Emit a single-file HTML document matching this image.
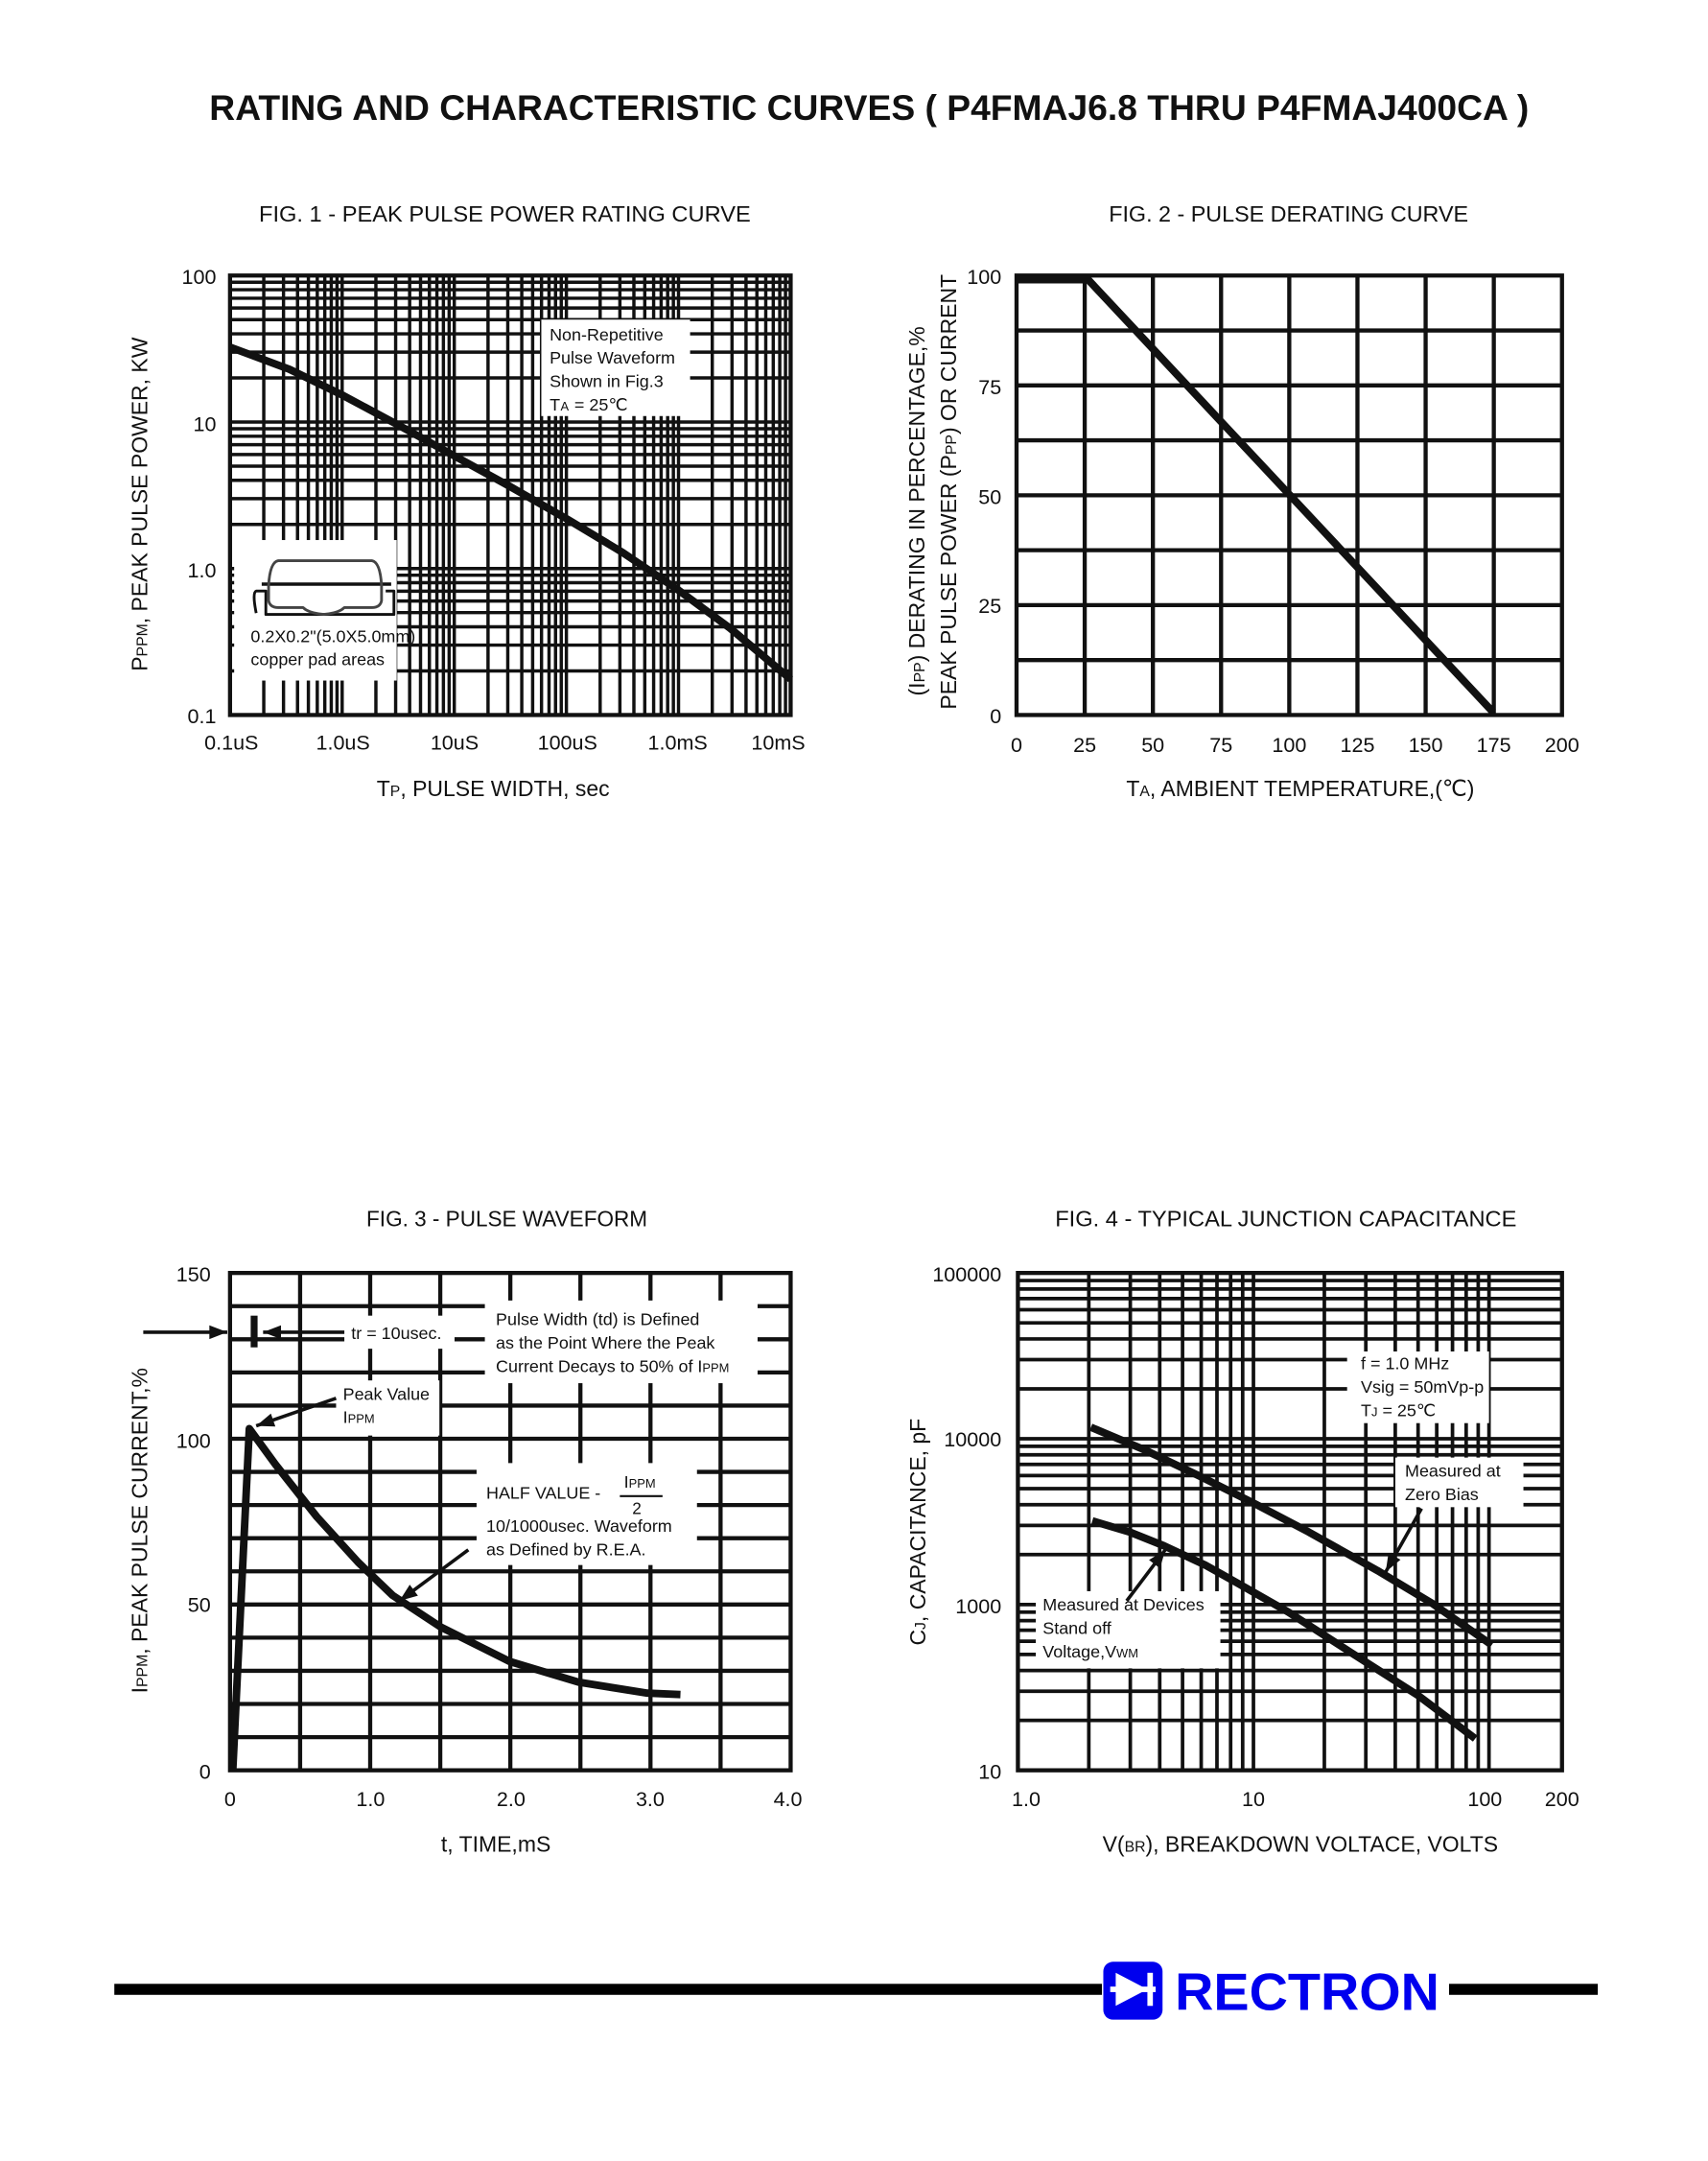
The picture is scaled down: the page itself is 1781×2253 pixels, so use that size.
<!DOCTYPE html>
<html><head><meta charset="utf-8"><style>
html,body{margin:0;padding:0;background:#fff;}
svg{display:block;}
text{font-family:"Liberation Sans",sans-serif;fill:#111;}
</style></head><body>
<svg id="s" xmlns="http://www.w3.org/2000/svg" width="1781" height="2253" viewBox="0 0 1240 1568.6" preserveAspectRatio="none">
<rect x="0" y="0" width="1240" height="1569" fill="#fff"/>
<g id="grids" stroke="#111" stroke-width="2.4" fill="none"></g>
<g id="over"></g>
</svg>
<script>
const NS="http://www.w3.org/2000/svg";
const G=document.getElementById('grids');
const O=document.getElementById('over');
function el(p,tag,a,txt){const e=document.createElementNS(NS,tag);for(const k in a)e.setAttribute(k,a[k]);if(txt!==undefined)e.textContent=txt;p.appendChild(e);return e;}
function L(x1,y1,x2,y2,w){el(G,'line',{x1,y1,x2,y2,'stroke-width':w||2.4});}
function logs(){const r=[];for(let k=1;k<=9;k++)r.push(Math.log10(k));return r;}
// Fig1
{const x0=167,x1=574,y0=200,y1=519,dx=(x1-x0)/5,dy=(y1-y0)/3;
for(let d=0;d<5;d++)for(const l of logs()){L(x0+dx*(d+l),y0,x0+dx*(d+l),y1);}
for(let d=0;d<3;d++)for(const l of logs()){const y=y1-dy*(d+l);L(x0,y,x1,y);}
el(G,'rect',{x:x0,y:y0,width:x1-x0,height:y1-y0,'stroke-width':3});}
// Fig2
{const x0=738,x1=1134,y0=200,y1=519;
for(let i=1;i<8;i++){const x=x0+(x1-x0)*i/8;L(x,y0,x,y1,3);const y=y0+(y1-y0)*i/8;L(x0,y,x1,y,3);}
el(G,'rect',{x:x0,y:y0,width:x1-x0,height:y1-y0,'stroke-width':3});}
// Fig3
{const x0=167,x1=574,y0=924,y1=1285;
for(let i=1;i<8;i++){const x=x0+(x1-x0)*i/8;L(x,y0,x,y1,3);}
for(let i=1;i<15;i++){const y=y0+(y1-y0)*i/15;L(x0,y,x1,y,3);}
el(G,'rect',{x:x0,y:y0,width:x1-x0,height:y1-y0,'stroke-width':3});}
// Fig4
{const x0=739,x1=1134,y0=924,y1=1285,dx=171,dy=(y1-y0)/3;
for(let d=0;d<2;d++)for(const l of logs()){const x=x0+dx*(d+l);L(x,y0,x,y1,2.6);}
L(x0+2*dx,y0,x0+2*dx,y1,2.6);
for(let d=0;d<3;d++)for(const l of logs()){const y=y1-dy*(d+l);L(x0,y,x1,y,2.6);}
el(G,'rect',{x:x0,y:y0,width:x1-x0,height:y1-y0,'stroke-width':3});}

const W=(x,y,w,h)=>el(O,'rect',{x,y,width:w,height:h,fill:'#fff'});
const T=(x,y,s,txt,a)=>{const o={x,y,'font-size':s};Object.assign(o,a||{});return el(O,'text',o,txt);};
const P=(d,w,extra)=>{const o={d,fill:'none',stroke:'#111','stroke-width':w,'stroke-linejoin':'round','stroke-linecap':'butt'};Object.assign(o,extra||{});return el(O,'path',o);};
function arrow(x1,y1,x2,y2){el(O,'line',{x1,y1,x2,y2,stroke:'#111','stroke-width':2.5});const a=Math.atan2(y2-y1,x2-x1),L=13,w=5;
const bx=x2-L*Math.cos(a),by=y2-L*Math.sin(a);el(O,'polygon',{points:`${x2},${y2} ${bx-w*Math.sin(a)},${by+w*Math.cos(a)} ${bx+w*Math.sin(a)},${by-w*Math.cos(a)}`,fill:'#111'});}

// Title
T(152,87,26,'RATING AND CHARACTERISTIC CURVES ( P4FMAJ6.8 THRU P4FMAJ400CA )',{'font-weight':'bold',textLength:958,lengthAdjust:'spacingAndGlyphs'});
T(188,161,16,'FIG. 1 - PEAK PULSE POWER RATING CURVE',{textLength:357,lengthAdjust:'spacingAndGlyphs'});
T(805,161,16,'FIG. 2 - PULSE DERATING CURVE',{textLength:261,lengthAdjust:'spacingAndGlyphs'});
T(266,890,16,'FIG. 3 - PULSE WAVEFORM',{textLength:204,lengthAdjust:'spacingAndGlyphs'});
T(766,890,16,'FIG. 4 - TYPICAL JUNCTION CAPACITANCE',{textLength:335,lengthAdjust:'spacingAndGlyphs'});

// Fig1 overlays
W(393,232,108,70);
T(399,247,12.5,'Non-Repetitive');T(399,264,12.5,'Pulse Waveform');T(399,281,12.5,'Shown in Fig.3');
T(399,298,12.5,'T');T(407,298,9,'A');T(417,298,12.5,'= 25℃');
W(170,392,118,102);
P('M186,445 Q183,430 186,429 L193,429 L193,446 L286,446 L286,429 L280,429',2);
P('M190,424 L284,424',2.5);
P('M195,425 Q196,408 202,407 L270,407 Q276,408 277,425 L277,436 Q276,441 270,441 L250,441 Q246,445 235,446 Q224,445 220,441 L202,441 Q196,441 195,436 Z',2,{stroke:'#444'});
T(182,466,12.5,'0.2X0.2"(5.0X5.0mm)');T(182,483,12.5,'copper pad areas');
P('M167,252 L210,268 L249,287 L290,309 L330,331 L370,353 L412,377 L452,401 L492,428 L530,456 L574,493',5.5);
// Fig1 ticks
[['100',200],['10',307],['1.0',413],['0.1',519]].forEach(([t,y])=>T(157,y+6,15,t,{'text-anchor':'end'}));
[['0.1uS',168],['1.0uS',249],['10uS',330],['100uS',412],['1.0mS',492],['10mS',565]].forEach(([t,x])=>T(x,544,15,t,{'text-anchor':'middle'}));
{const g=el(O,'text',{x:0,y:0,'font-size':16,transform:'translate(107,366) rotate(-90)','text-anchor':'middle'});
el(g,'tspan',{},'P');el(g,'tspan',{'font-size':11},'PPM');el(g,'tspan',{},', PEAK PULSE POWER, KW');}
{const g=el(O,'text',{x:358,y:578,'font-size':16,'text-anchor':'middle'});el(g,'tspan',{},'T');el(g,'tspan',{'font-size':11},'P');el(g,'tspan',{},', PULSE WIDTH, sec');}

// Fig2
P('M738,203 L790,203 L1084,517',5.5);
[['100',200],['75',280],['50',360],['25',439],['0',519]].forEach(([t,y])=>T(727,y+6,15,t,{'text-anchor':'end'}));
[0,25,50,75,100,125,150,175,200].forEach((v,i)=>T(738+49.5*i,546,15,String(v),{'text-anchor':'middle'}));
{const g=el(O,'text',{x:0,y:0,'font-size':16,transform:'translate(671,371) rotate(-90)','text-anchor':'middle'});
el(g,'tspan',{},'(I');el(g,'tspan',{'font-size':11},'PP');el(g,'tspan',{},') DERATING IN PERCENTAGE,%');}
{const g=el(O,'text',{x:0,y:0,'font-size':16,transform:'translate(694,357) rotate(-90)','text-anchor':'middle'});
el(g,'tspan',{},'PEAK PULSE POWER (P');el(g,'tspan',{'font-size':11},'PP');el(g,'tspan',{},') OR CURRENT');}
{const g=el(O,'text',{x:944,y:578,'font-size':16,'text-anchor':'middle'});el(g,'tspan',{},'T');el(g,'tspan',{'font-size':11},'A');el(g,'tspan',{},', AMBIENT TEMPERATURE,(℃)');}

// Fig3
W(250,955,80,24);W(352,944,198,60);W(244,1002,75,40);W(346,1062,160,74);
arrow(104,967,165,967);
el(O,'rect',{x:182,y:955,width:5,height:23,fill:'#111'});
arrow(250,967,191,967);
T(255,972,12.5,'tr = 10usec.');
T(360,962,12.5,'Pulse Width (td) is Defined');T(360,979,12.5,'as the Point Where the Peak');
{const g=T(360,996,12.5,'Current Decays to 50% of I');el(g,'tspan',{'font-size':9},'PPM');}
T(249,1016,12.5,'Peak Value');{const g=T(249,1033,12.5,'I');el(g,'tspan',{'font-size':9},'PPM');}
arrow(244,1015,186,1035);
T(353,1088,12.5,'HALF VALUE -');{const g=T(453,1080,12.5,'I');el(g,'tspan',{'font-size':9},'PPM');}
el(O,'line',{x1:450,y1:1086,x2:481,y2:1086,stroke:'#111','stroke-width':1.5});T(459,1099,12,'2');
T(353,1112,12.5,'10/1000usec. Waveform');T(353,1129,12.5,'as Defined by R.E.A.');
arrow(340,1125,290,1162);
P('M169,1285 L181,1037 L200,1063 L230,1101 L260,1134 L285,1158 L320,1181 L370,1206 L420,1221 L470,1229 L494,1230',5.5);
[['150',924],['100',1045],['50',1164],['0',1285]].forEach(([t,y])=>T(153,y+6,15,t,{'text-anchor':'end'}));
[['0',167],['1.0',269],['2.0',371],['3.0',472],['4.0',572]].forEach(([t,x])=>T(x,1311,15,t,{'text-anchor':'middle'}));
{const g=el(O,'text',{x:0,y:0,'font-size':16,transform:'translate(107,1111) rotate(-90)','text-anchor':'middle'});
el(g,'tspan',{},'I');el(g,'tspan',{'font-size':11},'PPM');el(g,'tspan',{},', PEAK PULSE CURRENT,%');}
T(360,1344,16,'t, TIME,mS',{'text-anchor':'middle'});

// Fig4
W(978,981,103,52);W(1013,1058,93,36);W(752,1155,134,56);
T(988,994,12.5,'f = 1.0 MHz');T(988,1011,12.5,'Vsig = 50mVp-p');
{const g=T(988,1028,12.5,'T');el(g,'tspan',{'font-size':9},'J');el(g,'tspan',{},' = 25℃');}
T(1020,1072,12.5,'Measured at');T(1020,1089,12.5,'Zero Bias');
T(757,1169,12.5,'Measured at Devices');T(757,1186,12.5,'Stand off');
{const g=T(757,1203,12.5,'Voltage,V');el(g,'tspan',{'font-size':9},'WM');}
P('M792,1036 L830,1052 L870,1071 L910,1091 L950,1112 L1000,1140 L1040,1164 L1083,1194',5.5);
P('M793,1104 L820,1112 L845,1122 L875,1136 L900,1150 L935,1170 L980,1199 L1030,1231 L1071,1262',5.5);
arrow(1032,1095,1006,1141);
arrow(818,1162,846,1125);
[['100000',924],['10000',1044],['1000',1165],['10',1285]].forEach(([t,y])=>T(727,y+6,15,t,{'text-anchor':'end'}));
[['1.0',745],['10',910],['100',1078],['200',1134]].forEach(([t,x])=>T(x,1311,15,t,{'text-anchor':'middle'}));
{const g=el(O,'text',{x:0,y:0,'font-size':16,transform:'translate(672,1112) rotate(-90)','text-anchor':'middle'});
el(g,'tspan',{},'C');el(g,'tspan',{'font-size':11},'J');el(g,'tspan',{},', CAPACITANCE, pF');}
{const g=el(O,'text',{x:944,y:1344,'font-size':16,'text-anchor':'middle'});el(g,'tspan',{},'V(');el(g,'tspan',{'font-size':11},'BR');el(g,'tspan',{},'), BREAKDOWN VOLTACE, VOLTS');}

// Footer
el(O,'rect',{x:83,y:1440,width:717,height:8,fill:'#000'});
el(O,'rect',{x:1052,y:1440,width:108,height:8,fill:'#000'});
el(O,'rect',{x:801,y:1424,width:43,height:42,rx:7,fill:'#0000ee'});
el(O,'polygon',{points:'810,1432 833,1444 810,1456',fill:'#fff'});
el(O,'rect',{x:806,y:1442,width:33,height:4,fill:'#fff'});
el(O,'rect',{x:833,y:1432,width:4,height:24,fill:'#fff'});
el(O,'text',{x:853,y:1459,'font-size':38,'font-weight':'bold',fill:'#0000ee',textLength:192,lengthAdjust:'spacingAndGlyphs',style:'fill:#0000ee'},'RECTRON');
</script>
</body></html>
